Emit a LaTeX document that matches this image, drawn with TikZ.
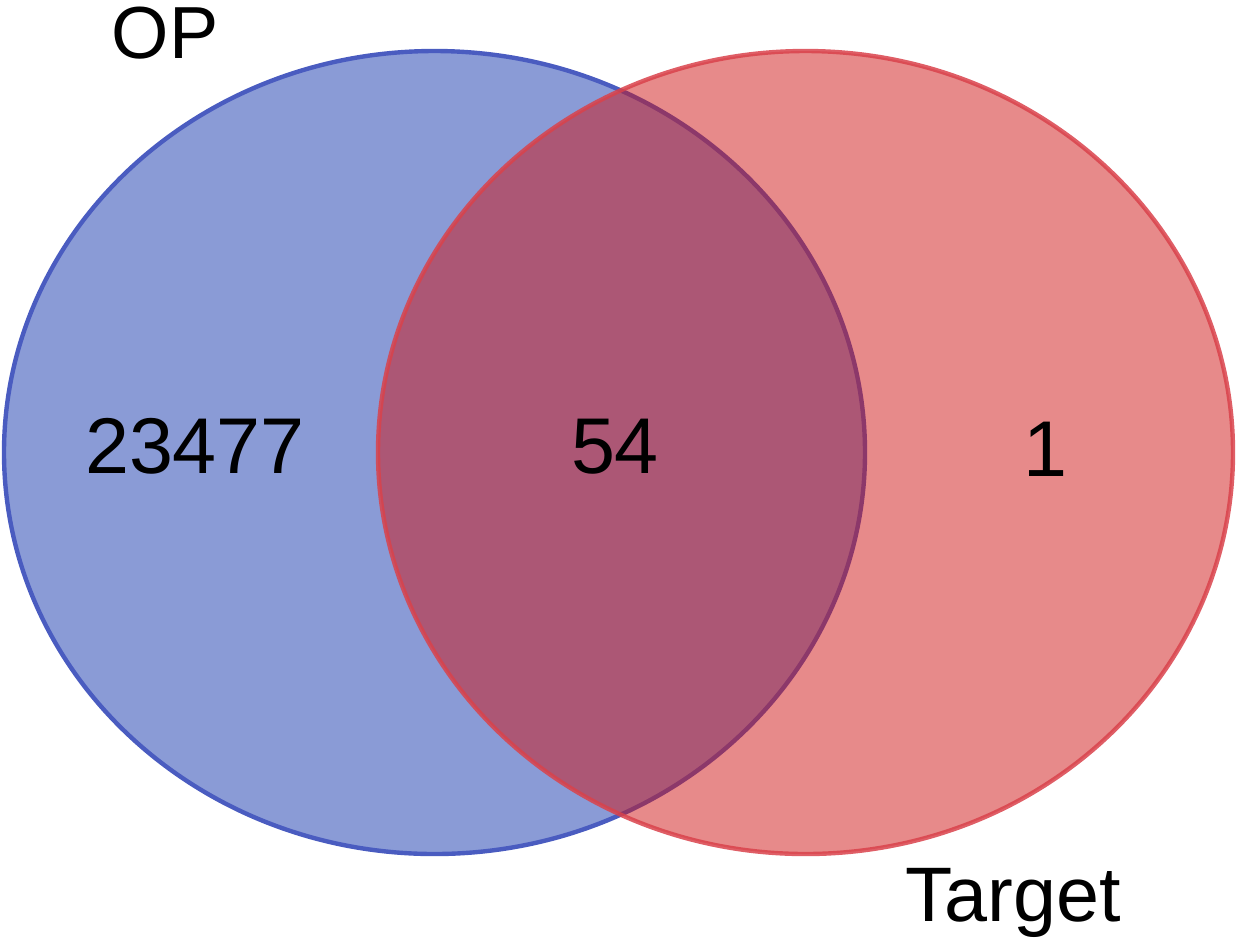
\documentclass[tikz,border=0pt]{standalone}
\usepackage{fontspec}
\setmainfont{Liberation Sans}
\usepackage{tikz}

\definecolor{opfill}{RGB}{138,155,214}
\definecolor{opline}{RGB}{74,92,192}
\definecolor{tgfill}{RGB}{207,21,21}
\definecolor{tgline}{RGB}{217,66,75}

\tikzset{
  setlabel/.style={anchor=base,inner sep=0pt,font=\fontsize{44}{44}\selectfont},
  countlabel/.style={anchor=base,inner sep=0pt,font=\fontsize{45}{45}\selectfont}
}

\begin{document}
\begin{tikzpicture}[x=0.02cm,y=-0.02cm]
          \useasboundingbox (0,0) rectangle (1240,938);

          \draw[opline,line width=2.5pt,fill=opfill] (434.5,452.5) ellipse [x radius=430.5,y radius=401.5];
          \draw[tgline,line width=2.5pt,fill=tgfill,fill opacity=0.5,draw opacity=0.85] (805.5,452.5) ellipse [x radius=427.5,y radius=401.5];

          \node[setlabel,font=\fontsize{42}{42}\selectfont] (op) at (165,58) {OP};
          \node[setlabel] (target) at (1013,921) {Target};

          \node[countlabel] (left) at (195,473) {23477};
          \node[countlabel] (both) at (615,473) {54};
          \node[countlabel] (right) at (1045,476) {1};
        \end{tikzpicture}
\end{document}
